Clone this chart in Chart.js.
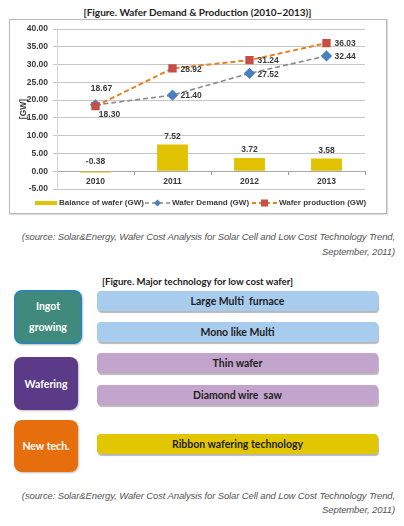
<!DOCTYPE html>
<html>
<head>
<meta charset="utf-8">
<script src="https://cdn.jsdelivr.net/npm/chart.js@4.4.0/dist/chart.umd.min.js"></script>
<style>
  body { margin: 0; width: 404px; height: 526px; background: #fff; position: relative; overflow: hidden; font-family: "Liberation Sans", Arial, sans-serif; }
  .abs { position: absolute; }
  #title1 { left: 0; width: 395px; top: 6px; text-align: center; font: bold 10px Lato, sans-serif; color: #222; white-space: nowrap; }
  #frame { left: 9px; top: 19px; width: 376px; height: 193px; border: 1px solid #b8b8b8; box-shadow: 1px 1px 1px #ddd; }
  #chartWrap { left: 0; top: 0; width: 404px; height: 220px; }
  .src { right: 9px; text-align: right; font: italic 9.5px "Liberation Sans", Arial, sans-serif; letter-spacing: -0.12px; color: #555; white-space: nowrap; }
  #title2 { left: 102px; top: 276px; font: bold 9.6px Lato, sans-serif; color: #222; white-space: nowrap; }
  .cat { left: 14px; width: 64px; border-radius: 8px; color: #fff; font: bold 10.5px Lato, sans-serif; display: flex; align-items: center; justify-content: center; text-align: center; box-shadow: 1px 1px 2px rgba(0,0,0,0.25); }
  .bar { left: 97px; width: 281px; height: 20px; border-radius: 4px; color: #1e1e1e; font: bold 10.5px Lato, sans-serif; display: flex; align-items: center; justify-content: center; box-shadow: 1px 2px 1px rgba(0,0,0,0.28); }
</style>
</head>
<body>
<div id="title1" class="abs">[Figure. Wafer Demand &amp; Production (2010~2013)]</div>
<div id="frame" class="abs"></div>
<div id="chartWrap" class="abs"><canvas id="waferChart" width="404" height="220"></canvas></div>

<div class="abs src" style="top:229px; line-height:15px;">(source: Solar&amp;Energy, Wafer Cost Analysis for Solar Cell and Low Cost Technology Trend,<br>September, 2011)</div>

<div id="title2" class="abs">[Figure. Major technology for low cost wafer]</div>

<div class="abs cat" style="top:290px; height:50px; background:#3f8a7c; border:2px solid #2c86b0; line-height:21px;">Ingot<br>growing</div>
<div class="abs cat" style="top:357px; height:53px; background:#5b3b87;">Wafering</div>
<div class="abs cat" style="top:420px; height:52px; background:#e66e0d;">New tech.</div>

<div class="abs bar" style="top:291px; background:#a8ccee;">Large Multi&nbsp; furnace</div>
<div class="abs bar" style="top:322px; background:#a8ccee;">Mono like Multi</div>
<div class="abs bar" style="top:353px; background:#c3a4cc;">Thin wafer</div>
<div class="abs bar" style="top:385px; background:#c3a4cc;">Diamond wire&nbsp; saw</div>
<div class="abs bar" style="top:434px; background:#e2c700;">Ribbon wafering technology</div>

<div class="abs src" style="top:489px; line-height:13.5px;">(source: Solar&amp;Energy, Wafer Cost Analysis for Solar Cell and Low Cost Technology Trend,<br>September, 2011)</div>

<script>
const years = ["2010", "2011", "2012", "2013"];
const balance = [-0.38, 7.52, 3.72, 3.58];
const demand = [18.67, 21.40, 27.52, 32.44];
const production = [18.30, 28.92, 31.24, 36.03];
const yTickValues = [-5, 0, 5, 10, 15, 20, 25, 30, 35, 40];

const fontFamily = "'Liberation Sans', Arial, sans-serif";
const labelFont = "bold 8.5px " + fontFamily;
const legendFont = "bold 8px " + fontFamily;
const textColor = "#3a3a3a";

// value labels next to bars and points
const valueLabels = {
  id: "valueLabels",
  afterDatasetsDraw(chart) {
    const ctx = chart.ctx;
    ctx.save();
    ctx.font = labelFont;
    ctx.fillStyle = textColor;
    ctx.textBaseline = "middle";
    chart.data.datasets.forEach((ds, di) => {
      const meta = chart.getDatasetMeta(di);
      meta.data.forEach((el, i) => {
        const text = ds.data[i].toFixed(2);
        const pos = i === 0 && ds.firstLabel ? ds.firstLabel : ds.labelPos;
        if (pos === "top") {
          ctx.textAlign = "center";
          ctx.fillText(text, el.x, Math.min(el.y, el.base) - (ds.data[i] < 0 ? 10 : 8));
        } else if (pos === "right") {
          ctx.textAlign = "left";
          ctx.fillText(text, el.x + 8, el.y + 1);
        } else if (pos === "below") {
          ctx.textAlign = "center";
          ctx.fillText(text, el.x + 14, el.y + 9);
        } else if (pos === "above") {
          ctx.textAlign = "center";
          ctx.fillText(text, el.x + 6, el.y - 16);
        }
      });
    });
    ctx.restore();
  },
};

// legend with line + marker samples
const customLegend = {
  id: "customLegend",
  afterDraw(chart) {
    const ctx = chart.ctx;
    const y = 203;
    ctx.save();
    ctx.font = legendFont;
    ctx.textBaseline = "middle";
    ctx.textAlign = "left";

    const bar = chart.data.datasets[0];
    ctx.fillStyle = bar.backgroundColor;
    ctx.fillRect(35, y - 2, 22, 4);
    ctx.fillStyle = textColor;
    ctx.fillText(bar.label, 59, y);

    const items = [
      { ds: chart.data.datasets[1], x: 145 },
      { ds: chart.data.datasets[2], x: 252 },
    ];
    items.forEach(({ ds, x }) => {
      ctx.strokeStyle = ds.borderColor;
      ctx.lineWidth = ds.borderWidth;
      ctx.setLineDash([4, 3]);
      ctx.beginPath();
      ctx.moveTo(x, y);
      ctx.lineTo(x + 25, y);
      ctx.stroke();
      ctx.setLineDash([]);
      ctx.fillStyle = ds.pointBackgroundColor;
      const cx = x + 12.5;
      if (ds.pointStyle === "rectRot") {
        ctx.beginPath();
        ctx.moveTo(cx, y - 3.5);
        ctx.lineTo(cx + 3.5, y);
        ctx.lineTo(cx, y + 3.5);
        ctx.lineTo(cx - 3.5, y);
        ctx.closePath();
        ctx.fill();
      } else {
        ctx.fillRect(cx - 3.5, y - 3.5, 7, 7);
      }
      ctx.fillStyle = textColor;
      ctx.fillText(ds.label, x + 27, y);
    });
    ctx.restore();
  },
};

new Chart(document.getElementById("waferChart"), {
  type: "bar",
  data: {
    labels: years,
    datasets: [
      {
        type: "bar",
        label: "Balance of wafer (GW)",
        data: balance,
        backgroundColor: "#e0c200",
        barPercentage: 0.4,
        categoryPercentage: 1,
        labelPos: "top",
        order: 3,
      },
      {
        type: "line",
        label: "Wafer Demand (GW)",
        data: demand,
        borderColor: "#8a8a8a",
        borderWidth: 1.6,
        borderDash: [5, 3],
        pointStyle: "rectRot",
        pointRadius: 4.5,
        pointBackgroundColor: "#4a7fc0",
        pointBorderColor: "#4a7fc0",
        labelPos: "right",
        firstLabel: "above",
        order: 2,
      },
      {
        type: "line",
        label: "Wafer production (GW)",
        data: production,
        borderColor: "#e8801f",
        borderWidth: 2,
        borderDash: [5, 3],
        pointStyle: "rect",
        pointRadius: 4.5,
        pointBackgroundColor: "#c65045",
        pointBorderColor: "#c65045",
        labelPos: "right",
        firstLabel: "below",
        order: 1,
      },
    ],
  },
  options: {
    responsive: false,
    animation: false,
    layout: { padding: { left: 0, top: 29, right: 39, bottom: 31 } },
    plugins: {
      legend: { display: false },
      tooltip: { enabled: false },
    },
    scales: {
      x: {
        position: { y: 0 },
        offset: true,
        grid: {
          offset: true,
          drawOnChartArea: false,
          tickLength: 3,
          color: "#9a9a9a",
        },
        border: { display: true, color: "#a9a9a9" },
        ticks: {
          font: { family: fontFamily, size: 8.5, weight: "bold" },
          color: textColor,
          padding: 2,
        },
      },
      y: {
        min: -5,
        max: 40,
        afterBuildTicks(scale) {
          scale.ticks = yTickValues.map((v) => ({ value: v }));
        },
        afterFit(scale) {
          scale.width = 57;
        },
        grid: { color: "#c6c6c6", tickLength: 4 },
        border: { display: true, color: "#d4d4d4" },
        ticks: {
          callback: (v) => Number(v).toFixed(2),
          font: { family: fontFamily, size: 8.5, weight: "bold" },
          color: textColor,
          padding: 5,
        },
        title: {
          display: true,
          text: "[GW]",
          font: { family: fontFamily, size: 8.5, weight: "bold" },
          color: textColor,
          padding: { top: 19, bottom: 0 },
        },
      },
    },
  },
  plugins: [valueLabels, customLegend],
});
</script>
</body>
</html>
